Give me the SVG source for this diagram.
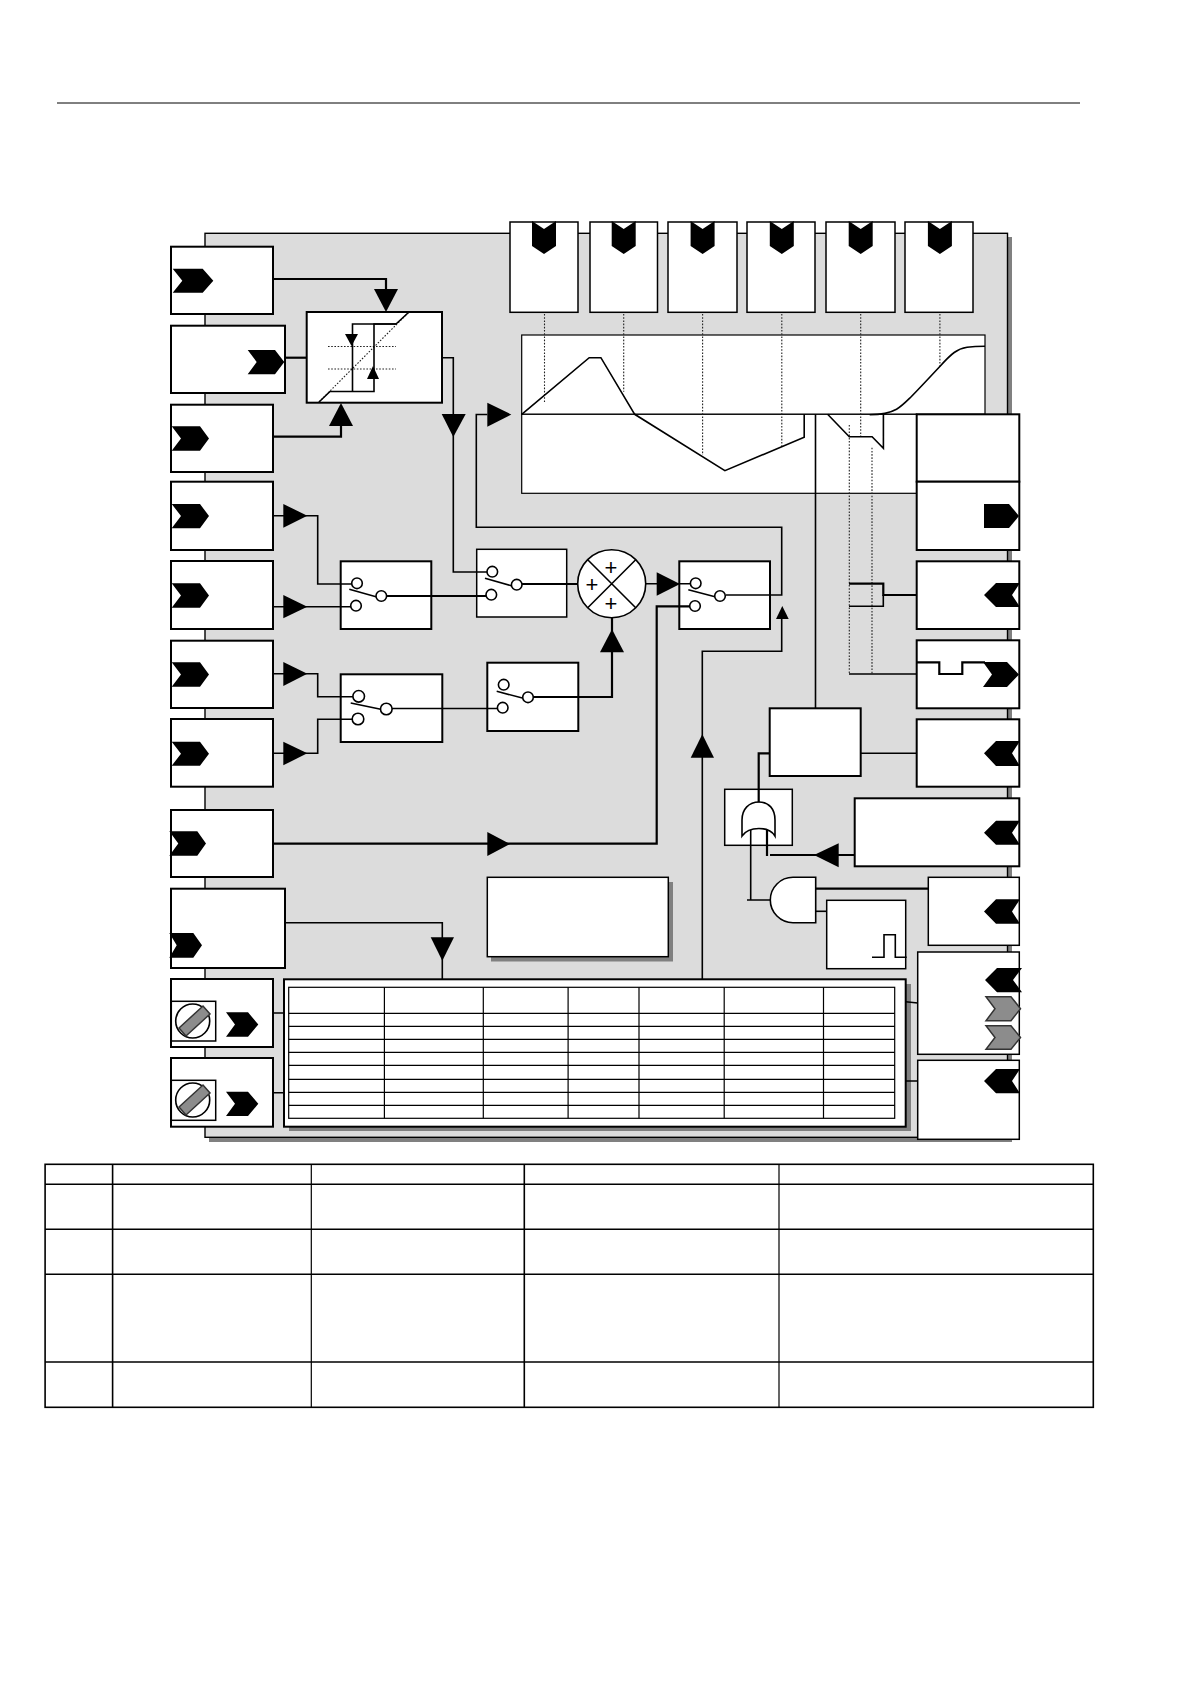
<svg xmlns="http://www.w3.org/2000/svg" width="1190" height="1684" viewBox="0 0 1190 1684">
<style>
.b{fill:#fff;stroke:#000;stroke-width:2}
.a{fill:#fff;stroke:#000;stroke-width:1.5}
.t{fill:#fff;stroke:#000;stroke-width:1.2}
.k{fill:#000;stroke:none}
.g{fill:#8c8c8c;stroke:#333;stroke-width:1.5}
.s{fill:#808080;stroke:none}
.l{fill:none;stroke:#000;stroke-width:1.6}
.h{fill:none;stroke:#000;stroke-width:2.2}
.n{fill:none;stroke:#000;stroke-width:1.2}
.d{fill:none;stroke:#222;stroke-width:1.1;stroke-dasharray:1.6 1.6}
.c{fill:#fff;stroke:#000;stroke-width:1.6}
.p{font-family:"Liberation Sans",Arial,sans-serif;font-size:22px;fill:#000;text-anchor:middle}
</style>
<line x1="57" y1="103" x2="1080" y2="103" stroke="#000" stroke-width="1"/>
<g id="panel">
<rect class="s" x="209" y="237" width="803" height="905"/>
<rect x="205" y="233.3" width="802.500" height="904" fill="#dcdcdc" stroke="#000" stroke-width="1.4"/>
</g>
<g id="chart">
<rect class="t" x="521.700" y="335" width="463.300" height="79.300"/>
<rect class="t" x="521.700" y="414.300" width="395" height="79"/>
<path class="d" d="M544.500 314V402.700M623.700 314V391.700M702.600 314V455M781.800 314V448M860.700 314V436.700M939.900 314V366.700M849.300 425V674M872 447.700V674"/>
<path class="l" d="M521.700 414.300L589.200 357.700H600.900L634.700 414.300L724.900 470.700L804.200 437.300V414.300"/>
<path class="l" d="M827.600 414.300L849.300 436.700H872.100L883.400 448.300V414.300"/>
<path class="l" d="M869.700 414.800C880 414.800 890 413 896.500 409.300C905 404 913 395 939.600 366.700C952 353 957 349 967.100 347.300C973 346.500 980 346.300 985 346.300"/>
</g>
<g id="top-boxes">
<g id="top-1"><rect class="a" x="510" y="222" width="68" height="90.300"/><polygon class="k" points="532,221 544,229 556,221 556,246 544,254 532,246"/></g>
<g id="top-2"><rect class="a" x="590" y="222" width="67.500" height="90.300"/><polygon class="k" points="611.700,221 623.700,229 635.700,221 635.700,246 623.700,254 611.700,246"/></g>
<g id="top-3"><rect class="a" x="668" y="222" width="69" height="90.300"/><polygon class="k" points="690.600,221 702.600,229 714.600,221 714.600,246 702.600,254 690.600,246"/></g>
<g id="top-4"><rect class="a" x="747" y="222" width="68" height="90.300"/><polygon class="k" points="769.800,221 781.800,229 793.800,221 793.800,246 781.800,254 769.800,246"/></g>
<g id="top-5"><rect class="a" x="826" y="222" width="69" height="90.300"/><polygon class="k" points="848.700,221 860.700,229 872.700,221 872.700,246 860.700,254 848.700,246"/></g>
<g id="top-6"><rect class="a" x="905" y="222" width="68" height="90.300"/><polygon class="k" points="927.900,221 939.900,229 951.900,221 951.900,246 939.900,254 927.900,246"/></g>
</g>
<g id="left-boxes">
<g id="left-1"><rect class="b" x="171" y="246.700" width="102" height="67.300"/><polygon class="k" points="172.700,268.700 202.700,268.700 213.300,280.700 202.700,292.700 172.700,292.700 182.300,280.700"/></g>
<g id="left-2"><rect class="b" x="171" y="325.700" width="114" height="67.300"/><polygon class="k" points="247.700,350 275,350 284.300,362 275,374.300 247.700,374.300 256.700,362"/></g>
<g id="left-3"><rect class="b" x="171" y="404.700" width="102" height="67.300"/><polygon class="k" points="171.700,426.300 200,426.300 209,438.500 200,450.700 171.700,450.700 181,438.500"/></g>
<g id="left-4"><rect class="b" x="171" y="481.700" width="102" height="68.300"/><polygon class="k" points="171.700,504 200,504 209,516 200,528.300 171.700,528.300 181,516"/></g>
<g id="left-5"><rect class="b" x="171" y="561" width="102" height="68"/><polygon class="k" points="171.700,583.300 200,583.300 209,595.500 200,607.700 171.700,607.700 181,595.500"/></g>
<g id="left-6"><rect class="b" x="171" y="640.700" width="102" height="67.300"/><polygon class="k" points="171.700,662.300 200,662.300 209,674.500 200,686.700 171.700,686.700 181,674.500"/></g>
<g id="left-7"><rect class="b" x="171" y="719" width="102" height="67.700"/><polygon class="k" points="171.700,741.700 200,741.700 209,753.700 200,765.700 171.700,765.700 181,753.700"/></g>
<g id="left-8"><rect class="b" x="171" y="810" width="102" height="67"/><polygon class="k" points="169.300,831.300 197.300,831.300 206,843.500 197.300,855.700 169.300,855.700 178.300,843.500"/></g>
<g id="left-9"><rect class="b" x="171" y="888.700" width="114" height="79.300"/><polygon class="k" points="169.300,933 193.300,933 202,945.300 193.300,957.700 169.300,957.700 176.700,945.300"/></g>
<g id="left-10"><rect class="b" x="171" y="979" width="102" height="68"/><rect class="a" x="171.300" y="1001.300" width="44.400" height="39.700"/><circle class="c" cx="192.700" cy="1021" r="17"/><polygon class="g" points="179,1028 203,1006 210,1014 186,1036"/><polygon class="k" points="226,1012.300 248,1012.300 258.300,1024.500 248,1036.700 226,1036.700 235,1024.500"/></g>
<g id="left-11"><rect class="b" x="171" y="1058" width="102" height="68.700"/><rect class="a" x="171.300" y="1080.300" width="44.400" height="40"/><circle class="c" cx="192.700" cy="1100" r="17"/><polygon class="g" points="179,1107 203,1085 210,1093 186,1115"/><polygon class="k" points="226,1091.700 248,1091.700 258.300,1103.800 248,1116 226,1116 235,1103.800"/></g>
</g>
<g id="right-boxes">
<g id="right-1"><rect class="b" x="916.700" y="414.300" width="102.600" height="67.400"/></g>
<g id="right-2"><rect class="b" x="916.700" y="481.700" width="102.600" height="68.300"/><polygon class="k" points="984,504 1009,504 1019,516 1009,528 984,528"/></g>
<g id="right-3"><rect class="b" x="916.700" y="561.300" width="102.600" height="67.700"/><polygon class="k" points="984,595 996,583 1020,583 1012,595 1020,607 996,607"/></g>
<g id="right-4"><rect class="b" x="916.700" y="640.300" width="102.600" height="68"/><path class="h" d="M916.700 662.300H939.300V674H962.300V662.300H985"/><polygon class="k" points="983,662 1007,662 1019,674.500 1007,687 983,687 992,674.500"/></g>
<g id="right-5"><rect class="b" x="916.700" y="719.300" width="102.600" height="67.400"/><polygon class="k" points="984,753.300 996,741 1020,741 1012,753.300 1020,766 996,766"/></g>
<g id="right-6"><rect class="b" x="854.700" y="798.300" width="164.600" height="68"/><polygon class="k" points="984,832.700 996,820.700 1020,820.700 1012,832.700 1020,844.700 996,844.700"/></g>
<g id="right-7"><rect class="a" x="928.300" y="877.300" width="91" height="68"/><polygon class="k" points="984,911.500 996,899.300 1020,899.300 1012,911.500 1020,923.700 996,923.700"/></g>
<g id="right-8"><rect class="a" x="917.700" y="952" width="101.600" height="102.300"/><polygon class="k" points="985,980 997,968 1022,968 1013,980 1022,992.300 997,992.300"/><polygon class="g" points="986,996.700 1011,996.700 1020.500,1008.700 1011,1020.700 986,1020.700 995,1008.700"/><polygon class="g" points="986,1025.700 1011,1025.700 1020.500,1037.500 1011,1049.300 986,1049.300 995,1037.500"/></g>
<g id="right-9"><rect class="a" x="917.700" y="1060.300" width="101.600" height="79"/><polygon class="k" points="984,1081 996,1069 1020,1069 1012,1081 1020,1093.300 996,1093.300"/></g>
</g>
<g id="hysteresis">
<rect class="b" x="306.700" y="312" width="135.300" height="90.700"/>
<path class="d" d="M328 346.500H396M328 369H396M319 402L409 312"/>
<path class="l" d="M319 402L330 391.500H374V324H396L409 312"/>
<path class="l" d="M352.500 391.500V324H396"/>
<polygon class="k" points="345,334 358,334 351.500,346"/>
<polygon class="k" points="367,379 379,379 373,366"/>
</g>
<g id="switch-1">
<rect class="b" x="340.700" y="561.300" width="90.600" height="67.700"/>
<line class="l" x1="349.300" y1="589.300" x2="376" y2="596.700"/>
<circle class="c" cx="357" cy="583.300" r="5.300"/><circle class="c" cx="356" cy="605.700" r="5.300"/><circle class="c" cx="381.300" cy="596" r="5.300"/>
</g>
<g id="switch-2">
<rect class="a" x="476.700" y="549.300" width="90" height="67.700"/>
<line class="l" x1="485" y1="578.300" x2="511.300" y2="585.700"/>
<circle class="c" cx="492.300" cy="571.700" r="5.300"/><circle class="c" cx="491.300" cy="594.700" r="5.300"/><circle class="c" cx="516.700" cy="584.700" r="5.300"/>
</g>
<g id="switch-3">
<rect class="b" x="679.300" y="561.300" width="90.700" height="67.700"/>
<line class="l" x1="688.300" y1="589.700" x2="715" y2="596.700"/>
<circle class="c" cx="695.700" cy="583.300" r="5.300"/><circle class="c" cx="695" cy="606" r="5.300"/><circle class="c" cx="720" cy="596" r="5.300"/>
</g>
<g id="switch-4">
<rect class="b" x="340.700" y="674.300" width="101.600" height="67.700"/>
<line class="l" x1="350.700" y1="703" x2="380.700" y2="709.300"/>
<circle class="c" cx="358.700" cy="696.300" r="5.800"/><circle class="c" cx="358" cy="719" r="5.800"/><circle class="c" cx="386.300" cy="709" r="5.800"/>
</g>
<g id="switch-5">
<rect class="b" x="487.300" y="662.700" width="91" height="68.300"/>
<line class="l" x1="496.700" y1="691.300" x2="523.300" y2="698.300"/>
<circle class="c" cx="503.700" cy="684.700" r="5.300"/><circle class="c" cx="502.700" cy="707.700" r="5.300"/><circle class="c" cx="528" cy="697.300" r="5.300"/>
</g>
<g id="summer">
<circle class="c" cx="611.700" cy="583.700" r="34"/>
<path class="l" d="M587.700 559.700L635.700 607.700M635.700 559.700L587.700 607.700"/>
<text class="p" x="611" y="574.500">+</text>
<text class="p" x="592" y="591.500">+</text>
<text class="p" x="611" y="610.500">+</text>
</g>
<g id="logic-box"><rect class="b" x="769.700" y="708.300" width="91" height="67.700"/></g>
<g id="or-gate">
<rect class="a" x="724.700" y="789.300" width="67.600" height="56"/>
<path class="l" d="M742 836V820C742 809 749 802 759 802C769 802 775 809 775 820V836C769 826 749 826 742 836Z"/>
</g>
<g id="and-gate"><path class="l" style="fill:#fff" d="M815.700 877.300H793A22.700 22.700 0 0 0 793 922.700H815.700Z"/></g>
<g id="pulse">
<rect class="a" x="826.700" y="900.300" width="79" height="68.400"/>
<path class="l" d="M872 957.300H884V934.700H895.300V957.300H906.700"/>
</g>
<g id="note"><rect class="s" x="491" y="882" width="182" height="79.500"/><rect class="a" x="487.300" y="877.300" width="181" height="79.400"/></g>
<g id="data-table">
<rect class="s" x="289" y="984" width="622" height="147"/>
<rect class="b" x="284" y="979.300" width="621.700" height="147.400"/>
<rect class="t" x="288.700" y="987.300" width="606" height="131"/>
<path class="n" d="M288.700 1013.300H894.700M288.700 1026.300H894.700M288.700 1039.300H894.700M288.700 1052.300H894.700M288.700 1065.300H894.700M288.700 1079.300H894.700M288.700 1092.300H894.700M288.700 1105.300H894.700M384.400 987.300V1118.300M483.300 987.300V1118.300M568.100 987.300V1118.300M639 987.300V1118.300M724.200 987.300V1118.300M823.500 987.300V1118.300"/>
</g>
<g id="connectors">
<path class="h" d="M273 279H386V295"/><polygon class="k" points="374,289 398,289 386,312"/>
<path class="h" d="M285 357.700H307"/>
<path class="h" d="M273 436.700H341V420"/><polygon class="k" points="329,426 353,426 341,403"/>
<path class="l" d="M442 357.700H453.300V572H487"/><polygon class="k" points="441.700,414 465.700,414 453.300,437"/>
<path class="l" d="M487.300 414.500H476.300V527.300H781.700V595H726"/><polygon class="k" points="487.300,402.700 487.300,426.700 511.300,414.500"/>
<path class="l" d="M273 515.700H317.700V584H352"/><polygon class="k" points="283.300,504 283.300,527.700 307.300,515.700"/>
<path class="l" d="M273 606.700H351"/><polygon class="k" points="283.300,595 283.300,618.300 307.300,606.700"/>
<path class="h" d="M386.600 596H486"/>
<path class="l" d="M273 673.700H317.700V696.700H353"/><polygon class="k" points="283.300,662 283.300,686 307.300,673.700"/>
<path class="l" d="M273 753.300H317.700V719.300H352"/><polygon class="k" points="283.300,741.700 283.300,765.300 307.300,753.300"/>
<path class="l" d="M392 708.500H497.500"/>
<path class="h" d="M522 584H578"/>
<path class="h" d="M533.300 697H612V618"/><polygon class="k" points="600,652.300 624,652.300 612,629.300"/>
<path class="l" d="M645.700 583.700H690"/><polygon class="k" points="656.700,572.300 656.700,595.700 680,584"/>
<path class="h" d="M273 843.700H656.700V606.300H690"/><polygon class="k" points="487.300,832 487.300,856 510,844"/>
<path class="l" d="M285 922.700H442.300V979.300"/><polygon class="k" points="430.700,937.300 454,937.300 442.300,960.700"/>
<path class="l" d="M702.300 979.300V651.300H781.700V615"/><polygon class="k" points="690.700,757.700 714,757.700 702.300,734.300"/><polygon class="k" points="776,619 788.700,619 782.300,606"/>
<path class="l" d="M815.500 414.300V708.300"/>
<path class="l" d="M849 674H916.700"/>
<path class="h" d="M916.700 595H883.300V583.700H849"/><path class="l" d="M883.300 595V606.300H849"/>
<path class="l" d="M860.700 753.300H916.700"/>
<path class="h" d="M769.700 753.300H758.700V802.300"/>
<path class="l" d="M747 900H770M750.700 830V900"/>
<path class="h" d="M767 830V856"/>
<path class="h" d="M770 855H854.700"/><polygon class="k" points="838.700,843.300 838.700,867.300 814,855"/>
<path class="h" d="M815.700 888.700H928.300"/>
<path class="l" d="M815.700 911.300H826.700"/>
<path class="l" d="M905.700 1001.700L917.700 1003M905.700 1081H918"/>
<path class="l" d="M273 1013H284M273 1092.700H284"/>
</g>
<g id="bottom-table">
<rect x="45.100" y="1164.300" width="1048.200" height="243" fill="#fff" stroke="#000" stroke-width="1.6"/>
<path class="l" d="M45.100 1184.300H1093.300M45.100 1229.300H1093.300M45.100 1274.300H1093.300M45.100 1362H1093.300M112.600 1164.300V1407.300M524.300 1164.300V1407.300"/>
<path class="n" d="M311.300 1164.300V1407.300M779 1164.300V1407.300"/>
</g>
</svg>
